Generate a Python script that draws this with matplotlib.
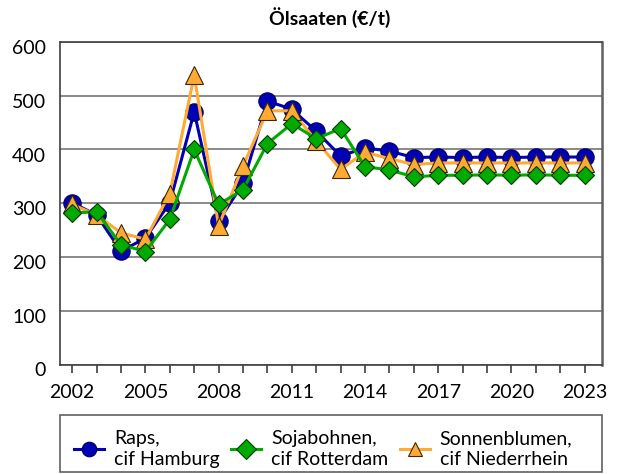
import matplotlib
matplotlib.use("Agg")
import matplotlib.pyplot as plt
from matplotlib.ticker import FixedLocator
from matplotlib.patches import Rectangle
from matplotlib.transforms import ScaledTranslation

plt.rcParams['font.family'] = ['Lato', 'DejaVu Sans']

years = list(range(2002, 2024))
raps = [301, 278, 211, 235, 301, 470, 267, 337, 490, 475, 434, 388, 403, 397,
        385, 386, 385, 386, 385, 386, 386, 386]
soja = [282, 284, 223, 210, 270, 400, 298, 325, 411, 448, 420, 439, 368, 362,
        349, 352, 352, 353, 352, 353, 352, 352]
sonnen = [298, 278, 245, 233, 318, 538, 258, 369, 472, 472, 416, 363, 395, 383,
          372, 375, 375, 375, 375, 375, 375, 375]
labels = ["Raps,\ncif Hamburg", "Sojabohnen,\ncif Rotterdam", "Sonnenblumen,\ncif Niederrhein"]
title = "Ölsaaten (€/t)"
yticks = [0, 100, 200, 300, 400, 500, 600]
xticklabels = [2002, 2005, 2008, 2011, 2014, 2017, 2020, 2023]

FS = 14
W, H = 618, 474

fig = plt.figure(figsize=(6.18, 4.74), dpi=100)
ax = fig.add_axes([60/W, 1-364.5/H, (601.7-60)/W, (364.5-42)/H])

l1, = ax.plot(years, raps, color='#0000B4', lw=2.2, marker='o', ms=12.5,
              mfc='#0000B4', mec='#00005A', mew=0.8, zorder=3, label=labels[0])
l3, = ax.plot(years, sonnen, color='#FFAA33', lw=2.2, marker='^', ms=13,
              mfc='#FFAA33', mec='#3A2A00', mew=0.8, zorder=4, label=labels[2])
l2, = ax.plot(years, soja, color='#00AA00', lw=2.2, marker='D', ms=9.5,
              mfc='#00AA00', mec='#003A00', mew=0.8, zorder=5, label=labels[1])

ax.set_ylim(0, 600)
ax.set_xlim(2001.5, 2023.7)
ax.yaxis.set_major_locator(FixedLocator(yticks))
ax.xaxis.set_major_locator(FixedLocator(xticklabels))
ax.xaxis.set_minor_locator(FixedLocator(years))
ax.set_xticklabels([str(v) for v in xticklabels])
ax.tick_params(axis='y', length=0, labelsize=FS, pad=10, colors='black')
ax.tick_params(axis='x', which='both', length=6, width=1.2, direction='out',
               color='#404040', labelsize=FS, pad=8)
ax.grid(axis='y', color='#808080', lw=1.3)
ax.set_axisbelow(True)
for s in ['left', 'bottom', 'top']:
    ax.spines[s].set_color('#404040')
    ax.spines[s].set_linewidth(1.2)
ax.spines['right'].set_color('#606060')
ax.spines['right'].set_linewidth(1.8)

shift = ScaledTranslation(0, -0.05, fig.dpi_scale_trans)
for lab in ax.get_yticklabels():
    lab.set_transform(lab.get_transform() + shift)

fig.text(330/W, 1-18/H, title, ha='center', va='center', fontsize=FS,
         fontweight='bold')

# legend frame
fig.patches.append(Rectangle((60/W, 1-472/H), (602-60)/W, (472-415)/H,
                             transform=fig.transFigure, fill=False,
                             edgecolor='#606060', lw=1.2))

leg = fig.legend(handles=[l1, l2, l3], labels=labels, loc='center left',
                 bbox_to_anchor=(74/W, 1-449/H),
                 ncol=3, fontsize=FS, frameon=False, borderaxespad=0,
                 borderpad=0, handlelength=1.55, handletextpad=0.5,
                 columnspacing=0.6)
for t in leg.get_texts():
    t.set_linespacing(1.3)
for h in leg.legend_handles:
    h.set_markersize(10.5)

fig.savefig("out.png", dpi=100)
